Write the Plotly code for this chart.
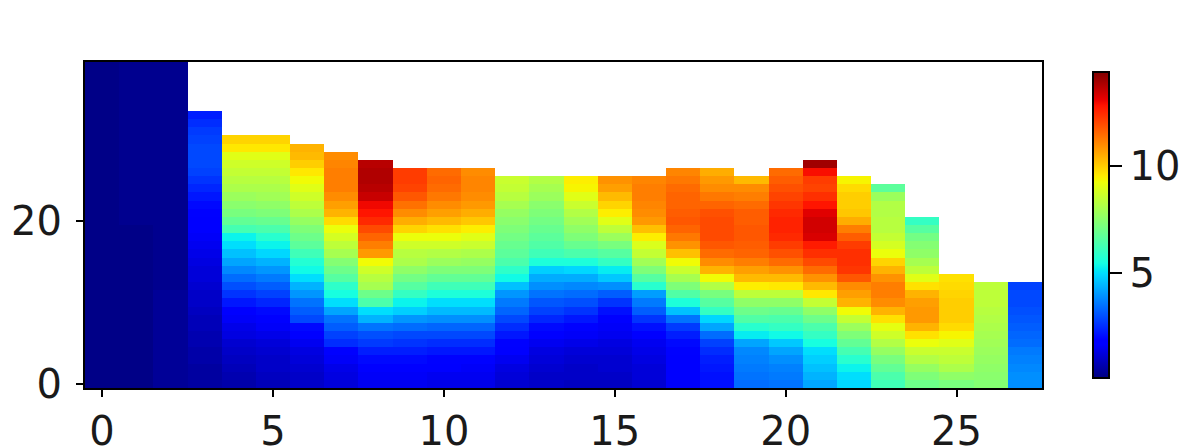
"""Jet heatmap of depth profiles, one list per column, bottom row first."""
import plotly.graph_objects as go

N_ROWS = 40

col00 = [0.2] * 40
col01 = [0.2] * 20 + [0.3] * 20
col02 = [0.4] * 12 + [0.3] * 28
col03 = [0.5, 0.5, 0.5, 0.6, 0.6, 0.7, 0.7, 0.8, 0.8, 0.9, 1.0, 1.0, 1.1, 1.2, 1.2, 1.3, 1.4,
         1.5, 1.6, 1.7, 1.8, 1.9, 2.0, 2.2, 2.4, 2.6, 2.8, 2.9, 2.9, 2.9, 2.8, 2.7, 2.5, 2.3]
col04 = [0.6, 0.7, 0.8, 0.9, 1.0, 1.1, 1.3, 1.4, 1.6, 1.8, 2.2, 2.6, 3.0, 3.4, 3.8, 4.2,
         4.6, 5.0, 5.3, 6.3, 6.8, 7.2, 7.5, 7.8, 8.1, 8.3, 8.5, 8.7, 9.0, 9.6, 9.9]
col05 = [0.8, 0.9, 1.0, 1.0, 1.1, 1.2, 1.4, 1.6, 1.8, 2.0, 2.4, 2.8, 3.2, 3.6, 4.0, 4.4,
         4.9, 5.3, 5.8, 6.4, 6.9, 7.3, 7.6, 7.9, 8.1, 8.3, 8.5, 8.7, 9.0, 9.6, 9.9]
col06 = [1.0, 1.0, 1.1, 1.2, 1.3, 1.5, 1.7, 2.0, 2.9, 3.2, 3.5, 4.0, 4.4, 5.0, 5.4,
         5.7, 6.2, 6.7, 7.0, 7.3, 7.7, 8.1, 8.4, 8.7, 9.0, 9.3, 9.6, 10.0, 10.3, 10.4]
col07 = [1.2, 1.3, 1.4, 1.6, 1.8, 2.5, 2.8, 3.2, 3.5, 4.2, 5.0, 5.5, 5.9, 6.6, 7.0,
         7.4, 8.0, 8.4, 8.8, 9.2, 9.8, 10.4, 10.7, 11.0, 11.2, 11.2, 11.2, 11.1, 11.0]
col08 = [1.5, 1.6, 1.8, 2.0, 2.3, 2.7, 3.0, 3.5, 4.4, 5.0, 6.4, 7.0, 8.0, 8.3,
         8.7, 9.3, 10.8, 11.2, 11.6, 12.0, 12.5, 12.8, 13.0, 13.5, 13.7, 13.8, 13.8, 13.7]
col09 = [1.5, 1.6, 1.8, 2.0, 2.3, 2.6, 2.9, 3.4, 4.0, 4.8, 5.3, 6.0, 6.6, 7.1,
         7.6, 8.1, 8.3, 8.7, 9.2, 9.9, 10.5, 11.0, 11.4, 11.8, 12.1, 12.2, 12.2]
col10 = [1.4, 1.5, 1.7, 1.9, 2.2, 2.5, 2.9, 3.3, 3.9, 4.5, 5.0, 5.6, 6.2, 6.8,
         7.3, 7.8, 8.2, 8.7, 9.2, 9.7, 10.3, 10.7, 11.0, 11.3, 11.5, 11.6, 11.5]
col11 = [1.4, 1.5, 1.6, 1.9, 2.2, 2.5, 2.9, 3.3, 3.9, 4.5, 5.0, 5.6, 6.2, 6.8,
         7.3, 7.7, 8.1, 8.6, 9.0, 9.5, 10.1, 10.5, 10.8, 11.0, 11.1, 11.1, 11.0]
col12 = [1.1, 1.2, 1.3, 1.5, 1.7, 1.9, 2.2, 2.5, 2.9, 3.3, 3.6, 4.0, 4.6,
         5.4, 5.9, 6.4, 6.7, 6.9, 7.1, 7.3, 7.5, 7.7, 8.0, 8.3, 8.5, 8.6]
col13 = [1.0, 1.0, 1.1, 1.2, 1.3, 1.5, 1.7, 2.0, 2.4, 2.8, 3.1, 3.5, 3.9,
         4.3, 4.8, 5.6, 6.2, 6.5, 6.7, 6.9, 7.1, 7.3, 7.5, 7.8, 8.0, 8.2]
col14 = [0.9, 1.0, 1.0, 1.1, 1.2, 1.4, 1.6, 1.9, 2.2, 2.6, 3.0, 3.4, 3.8,
         4.3, 4.9, 5.6, 6.4, 6.9, 7.3, 7.6, 7.9, 8.2, 8.6, 9.0, 9.4, 9.5]
col15 = [0.9, 1.0, 1.1, 1.1, 1.2, 1.3, 1.5, 1.6, 1.8, 2.1, 2.6, 3.2, 3.9,
         4.7, 5.2, 6.0, 6.6, 7.2, 7.8, 8.4, 9.0, 9.5, 9.9, 10.3, 10.7, 10.9]
col16 = [1.1, 1.2, 1.2, 1.3, 1.4, 1.5, 1.7, 2.1, 2.6, 3.2, 3.6, 4.1, 5.8,
         6.6, 7.3, 7.9, 8.5, 8.9, 9.5, 10.2, 10.8, 11.0, 11.1, 11.2, 11.2, 11.1]
col17 = [1.6, 1.7, 1.7, 1.8, 1.9, 2.0, 2.3, 2.7, 3.5, 4.6, 5.6, 6.5, 7.3, 8.0,
         8.6, 9.3, 10.2, 10.9, 11.3, 11.6, 11.8, 11.7, 11.6, 11.6, 11.5, 11.3, 11.1]
col18 = [2.1, 2.1, 2.2, 2.3, 2.5, 2.8, 3.4, 4.2, 4.9, 6.0, 6.6, 7.2, 8.2, 9.3,
         10.4, 11.0, 11.5, 11.8, 12.0, 12.0, 12.0, 11.9, 11.6, 11.3, 11.0, 10.8, 10.5]
col19 = [3.4, 3.5, 3.6, 3.7, 3.8, 4.2, 5.2, 5.8, 6.5, 7.0, 7.6, 8.4, 9.5,
         10.3, 10.7, 11.2, 11.6, 11.7, 11.8, 11.8, 11.7, 11.7, 11.5, 11.2, 11.0, 10.3]
col20 = [3.5, 3.6, 3.7, 3.9, 4.2, 4.7, 5.4, 6.0, 6.4, 6.9, 7.6, 8.4, 9.6, 10.3,
         10.9, 11.5, 11.9, 12.2, 12.5, 12.6, 12.6, 12.5, 12.3, 12.1, 11.9, 11.7, 11.5]
col21 = [4.2, 4.4, 4.6, 4.8, 5.0, 5.5, 6.0, 6.4, 7.0, 7.6, 8.5, 9.6, 10.3, 10.9,
         11.5, 12.0, 12.4, 12.7, 13.3, 13.4, 13.4, 13.2, 12.8, 12.4, 12.1, 12.2, 12.9, 14.0]
col22 = [4.9, 5.0, 5.3, 5.8, 6.3, 6.8, 7.3, 7.8, 8.5, 9.3, 10.4, 10.7, 11.0,
         11.8, 12.3, 12.4, 12.4, 12.2, 11.7, 11.2, 10.5, 10.1, 10.0, 10.0, 9.8, 9.4]
col23 = [6.2, 6.4, 6.8, 7.2, 7.7, 8.2, 8.7, 9.1, 9.7, 10.4, 11.0, 11.2, 11.2,
         10.9, 10.4, 9.9, 9.2, 8.8, 8.5, 8.3, 8.3, 8.2, 8.2, 7.8, 6.7]
col24 = [7.0, 7.3, 7.7, 8.2, 8.6, 9.2, 9.7, 10.4, 10.8, 10.8, 10.7,
         10.4, 9.7, 9.0, 8.4, 8.0, 7.6, 7.4, 7.1, 6.6, 6.0]
col25 = [7.2, 7.6, 8.1, 8.4, 8.6, 9.0, 9.4, 9.8, 10.0, 10.0, 10.0, 9.9, 9.8, 9.7]
col26 = [7.4, 7.5, 7.6, 7.7, 7.8, 7.9, 8.0, 8.1, 8.2, 8.3, 8.4, 8.4, 8.4]
col27 = [3.9, 3.9, 3.8, 3.7, 3.6, 3.4, 3.3, 3.2, 3.1, 3.0, 2.9, 2.9, 2.8]

columns = [col00, col01, col02, col03, col04, col05, col06, col07, col08, col09,
           col10, col11, col12, col13, col14, col15, col16, col17, col18, col19,
           col20, col21, col22, col23, col24, col25, col26, col27]

x_ticks = [0, 5, 10, 15, 20, 25]
y_ticks = [0, 20]
bar_ticks = [5, 10]

# matplotlib's jet
jet = [
    [0.0, "rgb(0,0,127)"], [0.11, "rgb(0,0,255)"], [0.125, "rgb(0,0,255)"],
    [0.34, "rgb(0,219,255)"], [0.35, "rgb(0,230,247)"], [0.375, "rgb(21,255,226)"],
    [0.64, "rgb(238,255,8)"], [0.65, "rgb(247,245,0)"], [0.66, "rgb(255,236,0)"],
    [0.89, "rgb(255,19,0)"], [0.91, "rgb(232,0,0)"], [1.0, "rgb(127,0,0)"],
]

# columns have different heights, the empty cells stay white
z = [[c[r] if r < len(c) else None for c in columns] for r in range(N_ROWS)]

FONT = dict(family="DejaVu Sans", size=40, color="#1a1a1a")

fig = go.Figure(
    go.Heatmap(
        z=z,
        zmin=0.1,
        zmax=14.4,
        colorscale=jet,
        colorbar=dict(
            x=1.053,
            xanchor="left",
            y=0.03,
            yanchor="bottom",
            len=306,
            lenmode="pixels",
            thickness=16,
            thicknessmode="pixels",
            tickvals=bar_ticks,
            ticks="outside",
            ticklen=12,
            tickwidth=2,
            tickcolor="black",
            outlinecolor="black",
            outlinewidth=2,
            xpad=0,
            ypad=0,
            tickfont=FONT,
        ),
    )
)
fig.update_xaxes(range=[-0.5, 27.5], tickvals=x_ticks, ticks="outside", ticklen=7, tickwidth=2,
                 tickcolor="black", showline=True, linecolor="black", linewidth=2, mirror=True,
                 showgrid=False, zeroline=False, tickfont=FONT)
fig.update_yaxes(range=[-0.5, 39.5], tickvals=y_ticks, ticks="outside", ticklen=7, tickwidth=2,
                 tickcolor="black", showline=True, linecolor="black", linewidth=2, mirror=True,
                 showgrid=False, zeroline=False, tickfont=FONT, ticklabelstandoff=6)
# the page body adds 8px on the top and left, so the figure is 8px smaller than the window
fig.update_layout(
    width=1188,
    height=440,
    margin=dict(l=77, r=154, t=54, b=60, autoexpand=False),
    paper_bgcolor="white",
    plot_bgcolor="white",
)
fig.write_html("out.html")
